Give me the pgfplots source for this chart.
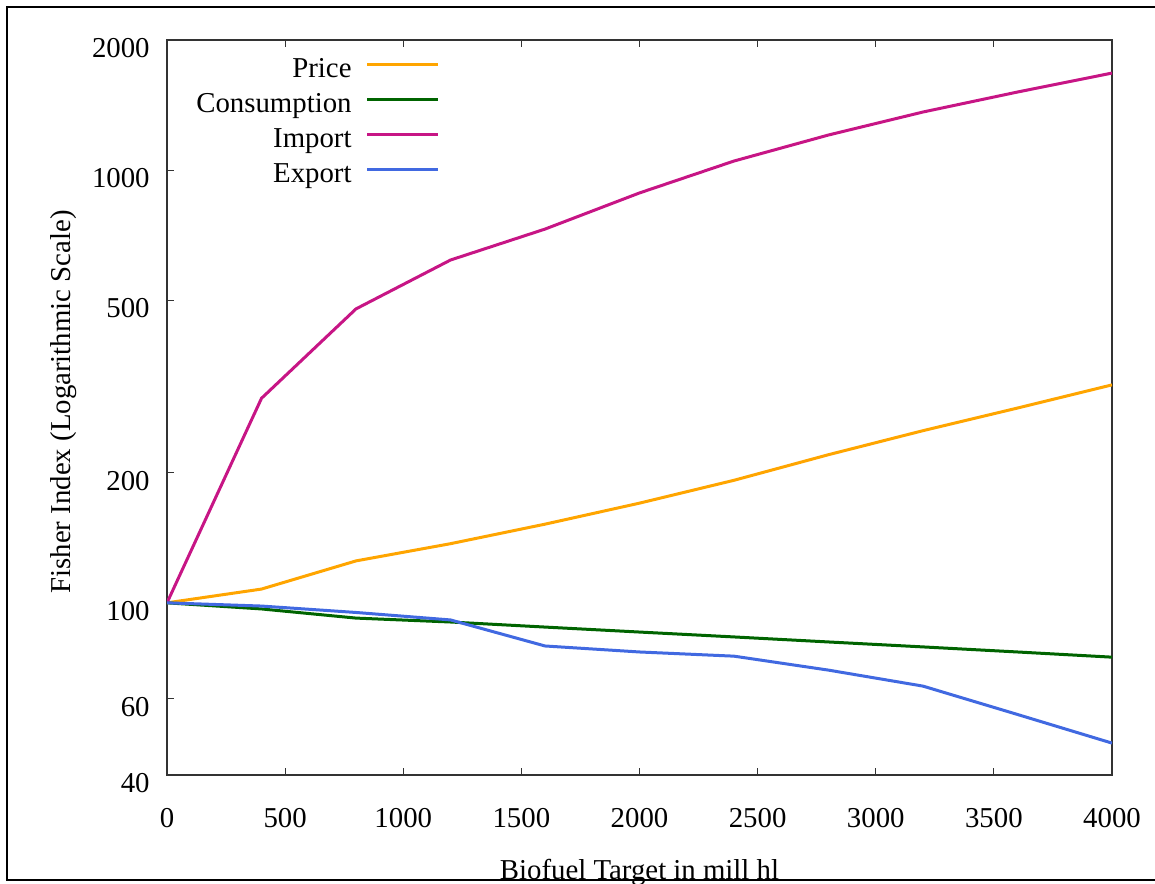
\documentclass[border=0pt]{standalone}
\usepackage{pgfplots}
\pgfplotsset{compat=1.18}
\usepackage{fontspec}
\setmainfont{Liberation Serif}
\definecolor{cprice}{HTML}{FFA500}
\definecolor{ccons}{HTML}{006400}
\definecolor{cimp}{HTML}{C71585}
\definecolor{cexp}{HTML}{4169E1}
\begin{document}
\fontsize{14.4}{17}\selectfont
\begin{tikzpicture}
\useasboundingbox (0,0) rectangle (577.5pt,441.5pt);
\clip (0,0) rectangle (577.5pt,441.5pt);
\begin{axis}[
  at={(83.5pt,54pt)}, anchor=south west,
  scale only axis, width=472.5pt, height=367.5pt,
  ymode=log,
  xmin=0, xmax=4000, ymin=40, ymax=2000,
  xtick={0,500,1000,1500,2000,2500,3000,3500,4000},
  xticklabels={0,500,1000,1500,2000,2500,3000,3500,4000},
  ytick={40,60,100,200,500,1000,2000},
  yticklabels={40,60,100,200,500,1000,2000},
  yminorticks=false, xminorticks=false,
  tick align=inside, xtick pos=both, ytick pos=left,
  major tick length=3.5pt,
  tick style={black!80, line width=0.6pt},
  axis line style={black!80, line width=0.65pt},
  ticklabel style={font=\fontsize{14.4}{17}\selectfont},
  xticklabel style={anchor=center, inner sep=0pt, yshift=-21.5pt},
  yticklabel style={anchor=east, inner sep=0pt, xshift=-8.5pt, yshift=-4pt},
  xlabel={Biofuel Target in mill hl},
  ylabel={Fisher Index (Logarithmic Scale)},
  label style={font=\fontsize{14.4}{17}\selectfont},
  xlabel style={at={(axis description cs:0.5,0)}, anchor=base, inner sep=0pt, yshift=-52.5pt},
  ylabel style={at={(axis description cs:-0.1026,0.5075)}, anchor=base, inner sep=0pt},
  legend style={draw=none, fill=none, at={(0.2952,0.985)}, anchor=north east,
    font=\fontsize{14.4}{17}\selectfont, row sep=0.5pt, column sep=7pt,
    nodes={inner sep=0pt, text height=11pt, text depth=6pt}},
  legend cell align=right,
  legend plot pos=right,
  legend image code/.code={\draw[#1] (0pt,4pt) -- (35.5pt,4pt);},
  every axis plot/.append style={line width=1.5pt},
]
\addplot[cprice] coordinates {(0,100)(400,107.6)(800,125)(1200,137)(1600,152)(2000,170)(2400,192)(2800,220)(3200,250)(3600,282)(4000,319)};
\addlegendentry{Price}
\addplot[ccons] coordinates {(0,100)(400,96.8)(800,92.2)(1200,90.3)(1600,87.9)(2000,85.6)(2400,83.4)(2800,81.2)(3200,79.1)(3600,77)(4000,74.9)};
\addlegendentry{Consumption}
\addplot[cimp] coordinates {(0,100)(400,297)(800,478)(1200,620)(1600,731)(2000,886)(2400,1050)(2800,1206)(3200,1363)(3600,1516)(4000,1677)};
\addlegendentry{Import}
\addplot[cexp] coordinates {(0,100)(400,98.3)(800,95)(1200,91.3)(1600,79.5)(2000,77)(2400,75.3)(2800,69.9)(3200,64.2)(3600,55.2)(4000,47.4)};
\addlegendentry{Export}
\end{axis}
\draw[line width=1.35pt] (3.5pt,1.5pt) rectangle (590pt,438pt);
\end{tikzpicture}
\end{document}
